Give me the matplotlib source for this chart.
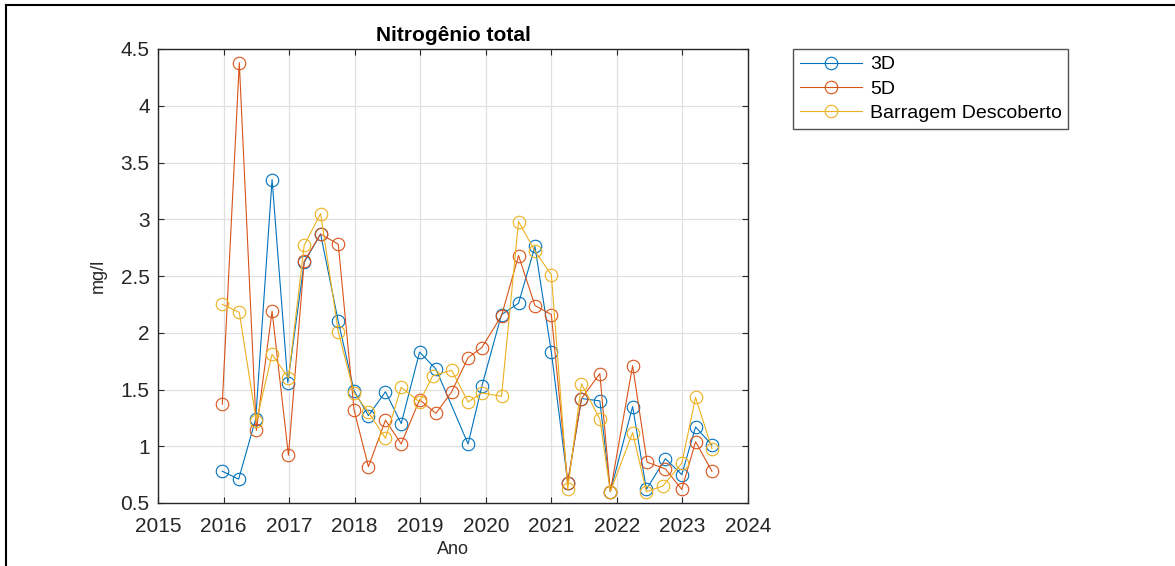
import matplotlib.pyplot as plt
from matplotlib.lines import Line2D

# Datos (ano decimal, mg/l)
x_3d = [2015.98, 2016.23, 2016.49, 2016.74, 2016.98, 2017.23, 2017.48, 2017.75, 2017.99,
        2018.21, 2018.47, 2018.71, 2018.99, 2019.24, 2019.73, 2019.94, 2020.24, 2020.5,
        2020.75, 2021.0, 2021.25, 2021.46, 2021.74, 2021.9, 2022.24, 2022.45, 2022.74,
        2022.99, 2023.2, 2023.45]
y_3d = [0.78, 0.71, 1.24, 3.35, 1.56, 2.62, 2.87, 2.10, 1.49, 1.27, 1.48, 1.20, 1.83,
        1.68, 1.02, 1.53, 2.16, 2.26, 2.76, 1.83, 0.68, 1.42, 1.40, 0.60, 1.35, 0.62,
        0.89, 0.75, 1.17, 1.01]

x_5d = [2015.98, 2016.24, 2016.5, 2016.74, 2016.99, 2017.23, 2017.48, 2017.75, 2017.99,
        2018.21, 2018.47, 2018.71, 2018.99, 2019.24, 2019.48, 2019.73, 2019.94, 2020.24,
        2020.5, 2020.75, 2021.0, 2021.25, 2021.46, 2021.74, 2021.9, 2022.24, 2022.46,
        2022.74, 2022.99, 2023.2, 2023.45]
y_5d = [1.37, 4.38, 1.14, 2.19, 0.92, 2.63, 2.87, 2.78, 1.32, 0.82, 1.23, 1.02, 1.41,
        1.29, 1.48, 1.78, 1.87, 2.15, 2.68, 2.24, 2.16, 0.68, 1.42, 1.64, 0.60, 1.71,
        0.86, 0.80, 0.62, 1.04, 0.78]

x_bd = [2015.98, 2016.24, 2016.5, 2016.74, 2016.99, 2017.23, 2017.48, 2017.75, 2017.99,
        2018.21, 2018.47, 2018.71, 2018.99, 2019.19, 2019.48, 2019.73, 2019.94, 2020.24,
        2020.5, 2020.75, 2021.0, 2021.25, 2021.46, 2021.74, 2021.9, 2022.24, 2022.45,
        2022.7, 2022.99, 2023.2, 2023.45]
y_bd = [2.25, 2.18, 1.22, 1.81, 1.60, 2.77, 3.05, 2.01, 1.47, 1.30, 1.07, 1.52, 1.39,
        1.62, 1.67, 1.39, 1.47, 1.44, 2.98, 2.72, 2.51, 0.62, 1.55, 1.24, 0.60, 1.12,
        0.60, 0.65, 0.85, 1.43, 0.98]

series = ['3D', '5D', 'Barragem Descoberto']
cores = ['#0072BD', '#D95319', '#EDB120']
anos = list(range(2015, 2025))
yticks = [0.5, 1, 1.5, 2, 2.5, 3, 3.5, 4, 4.5]
ytick_labels = ['0.5', '1', '1.5', '2', '2.5', '3', '3.5', '4', '4.5']

plt.rcParams['font.family'] = ['Liberation Sans', 'DejaVu Sans']

fig = plt.figure(figsize=(11.75, 5.66), dpi=100)
ax = fig.add_axes([158 / 1175, 1 - 503 / 566, 590 / 1175, 454 / 566])

dados = [(x_3d, y_3d), (x_5d, y_5d), (x_bd, y_bd)]
for (xs, ys), nome, cor in zip(dados, series, cores):
    ax.plot(xs, ys, '-o', color=cor, lw=0.8, markersize=9, markerfacecolor='none',
            markeredgewidth=0.8, label=nome)

ax.set_xlim(2015, 2024)
ax.set_ylim(0.5, 4.5)
ax.set_xticks(anos)
ax.set_xticklabels([str(a) for a in anos])
ax.set_yticks(yticks)
ax.set_yticklabels(ytick_labels)
ax.grid(True, color='#E0E0E0', lw=0.9)
ax.set_axisbelow(True)
ax.tick_params(direction='in', top=True, right=True, labelsize=15, colors='#262626',
               length=4)
ax.tick_params(axis='x', pad=10)
ax.tick_params(axis='y', pad=6)
for s in ax.spines.values():
    s.set_color('#262626')
    s.set_linewidth(1.0)

ax.set_title('Nitrogênio total', fontsize=15, fontweight='bold', pad=6)
ax.set_xlabel('Ano', fontsize=13, color='#262626', labelpad=4)
ax.set_ylabel('mg/l', fontsize=13, color='#262626', labelpad=10)

leg = fig.legend(loc='upper left', bbox_to_anchor=(793 / 1175, 1 - 49 / 566),
                 fontsize=14, frameon=True, fancybox=False, edgecolor='#262626',
                 handlelength=3.2, handletextpad=0.4, labelspacing=0.35,
                 borderpad=0.35, borderaxespad=0)
leg.get_frame().set_linewidth(1.0)

# moldura da figura (esquerda e topo)
fig.add_artist(Line2D([6 / 1175, 6 / 1175], [0, 1 - 5 / 566], color='black', lw=1.5))
fig.add_artist(Line2D([6 / 1175, 1], [1 - 5 / 566, 1 - 5 / 566], color='black', lw=1.5))

fig.savefig('out.png', dpi=100)
